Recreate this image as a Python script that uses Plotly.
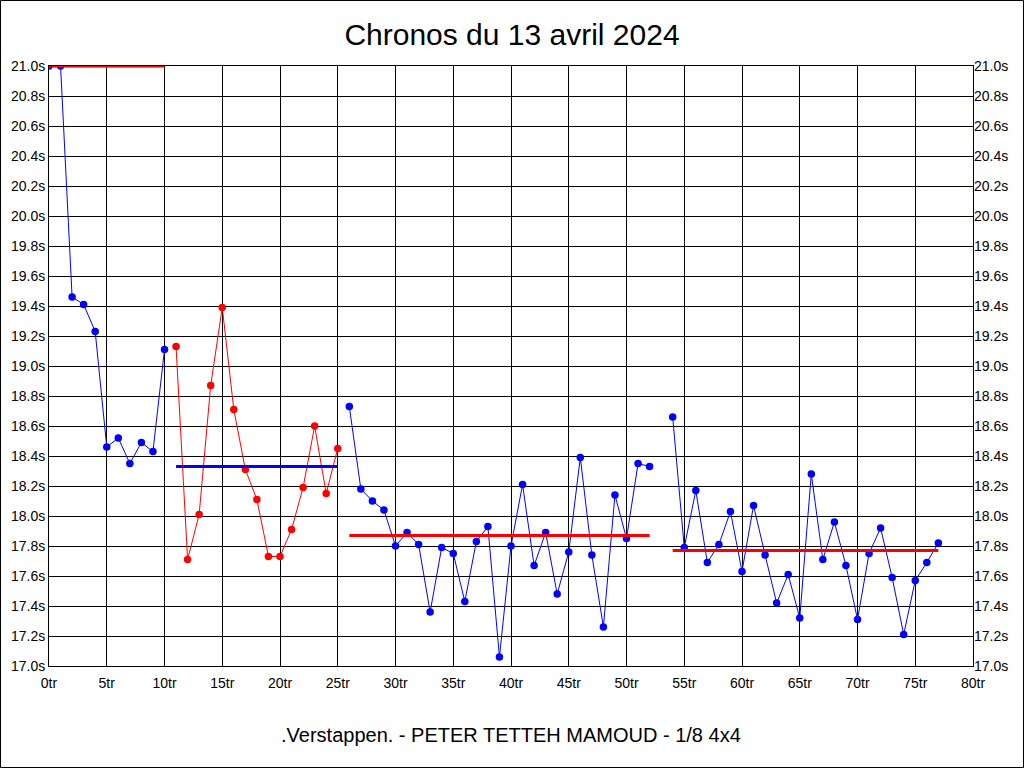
import plotly.graph_objects as go

# ---- data ----
seg1_laps = [0, 1, 2, 3, 4, 5, 6, 7, 8, 9, 10]
seg1_times = [21.00, 21.00, 19.46, 19.41, 19.23, 18.46, 18.52, 18.35, 18.49, 18.43, 19.11]

seg2_laps = [11, 12, 13, 14, 15, 16, 17, 18, 19, 20, 21, 22, 23, 24, 25]
seg2_times = [19.13, 17.71, 18.01, 18.87, 19.39, 18.71, 18.31, 18.11, 17.73, 17.73,
              17.91, 18.19, 18.60, 18.15, 18.45]

seg3_laps = [26, 27, 28, 29, 30, 31, 32, 33, 34, 35, 36, 37, 38, 39, 40, 41, 42, 43,
             44, 45, 46, 47, 48, 49, 50, 51, 52]
seg3_times = [18.73, 18.18, 18.10, 18.04, 17.80, 17.89, 17.81, 17.36, 17.79, 17.75,
              17.43, 17.83, 17.93, 17.06, 17.80, 18.21, 17.67, 17.89, 17.48, 17.76,
              18.39, 17.74, 17.26, 18.14, 17.85, 18.35, 18.33]

seg4_laps = [54, 55, 56, 57, 58, 59, 60, 61, 62, 63, 64, 65, 66, 67, 68, 69, 70, 71,
             72, 73, 74, 75, 76, 77]
seg4_times = [18.66, 17.79, 18.17, 17.69, 17.81, 18.03, 17.63, 18.07, 17.74, 17.42,
              17.61, 17.32, 18.28, 17.71, 17.96, 17.67, 17.31, 17.75, 17.92, 17.59,
              17.21, 17.57, 17.69, 17.82]

# average lines per segment: (start lap, end lap, mean time)
avg_starts = [0, 11, 26, 54]
avg_ends = [10, 25, 52, 77]
avg_values = [21.00, 18.33, 17.87, 17.77]

series_colors = ["#0000FF", "#FF0000", "#0000FF", "#0000FF"]
avg_colors = ["#FF0000", "#0000FF", "#FF0000", "#FF0000"]

x_ticks = list(range(0, 81, 5))
x_ticklabels = [f"{v}tr" for v in x_ticks]

title_text = "Chronos du 13 avril 2024"
footer_text = ".Verstappen. - PETER TETTEH MAMOUD - 1/8 4x4"

# ---- figure ----
fig = go.Figure()

segments = [(seg1_laps, seg1_times), (seg2_laps, seg2_times),
            (seg3_laps, seg3_times), (seg4_laps, seg4_times)]
for (lx, ly), col in zip(segments, series_colors):
    fig.add_trace(go.Scatter(x=lx, y=ly, mode="lines+markers",
                             line=dict(color=col, width=1),
                             marker=dict(color=col, size=7.5),
                             showlegend=False, hoverinfo="x+y"))

for s, e, v, col in zip(avg_starts, avg_ends, avg_values, avg_colors):
    fig.add_trace(go.Scatter(x=[s, e], y=[v, v], mode="lines",
                             line=dict(color=col, width=3),
                             showlegend=False, hoverinfo="y"))

# invisible trace for the right axis
fig.add_trace(go.Scatter(x=[0], y=[21.0], yaxis="y2", mode="markers",
                         marker=dict(opacity=0), showlegend=False, hoverinfo="skip"))

FONT = "Liberation Sans, Arial, sans-serif"
tick_font = dict(family=FONT, size=14, color="black")

fig.update_layout(
    width=1024, height=768,
    margin=dict(l=49, r=51, t=66, b=102),
    paper_bgcolor="white", plot_bgcolor="white",
    title=dict(text=title_text, x=0.5, xanchor="center", y=1 - 34 / 768, yanchor="middle",
               font=dict(family=FONT, size=30, color="black")),
    xaxis=dict(range=[0, 80], tickvals=x_ticks, ticktext=x_ticklabels,
               showgrid=True, gridcolor="black", gridwidth=1,
               showline=True, linecolor="black", linewidth=1, mirror=True,
               ticks="", tickfont=tick_font, zeroline=False, ticklabelstandoff=4),
    yaxis=dict(range=[17.0, 21.0], dtick=0.2, tick0=17.0, tickformat=".1f", ticksuffix="s",
               showgrid=True, gridcolor="black", gridwidth=1,
               showline=True, linecolor="black", linewidth=1, mirror=True,
               ticks="", tickfont=tick_font, zeroline=False, ticklabelstandoff=0),
    yaxis2=dict(range=[17.0, 21.0], dtick=0.2, tick0=17.0, tickformat=".1f", ticksuffix="s",
                overlaying="y", side="right", showgrid=False, ticks="",
                tickfont=tick_font, zeroline=False, showline=False, ticklabelstandoff=0),
    annotations=[dict(text=footer_text, xref="paper", yref="paper",
                      x=0.5, y=(666 - 735) / 600, xanchor="center", yanchor="middle",
                      showarrow=False,
                      font=dict(family=FONT, size=20, color="black"))],
    shapes=[dict(type="rect", xref="paper", yref="paper",
                 x0=-48.5 / 924, x1=(1023.5 - 49) / 924,
                 y0=(666 - 767.5) / 600, y1=(666 - 0.5) / 600,
                 line=dict(color="black", width=1), layer="above")],
)

fig.write_html("out.html", config={"displayModeBar": False},
               post_script="document.body.style.margin='0';document.body.style.overflow='hidden';")
